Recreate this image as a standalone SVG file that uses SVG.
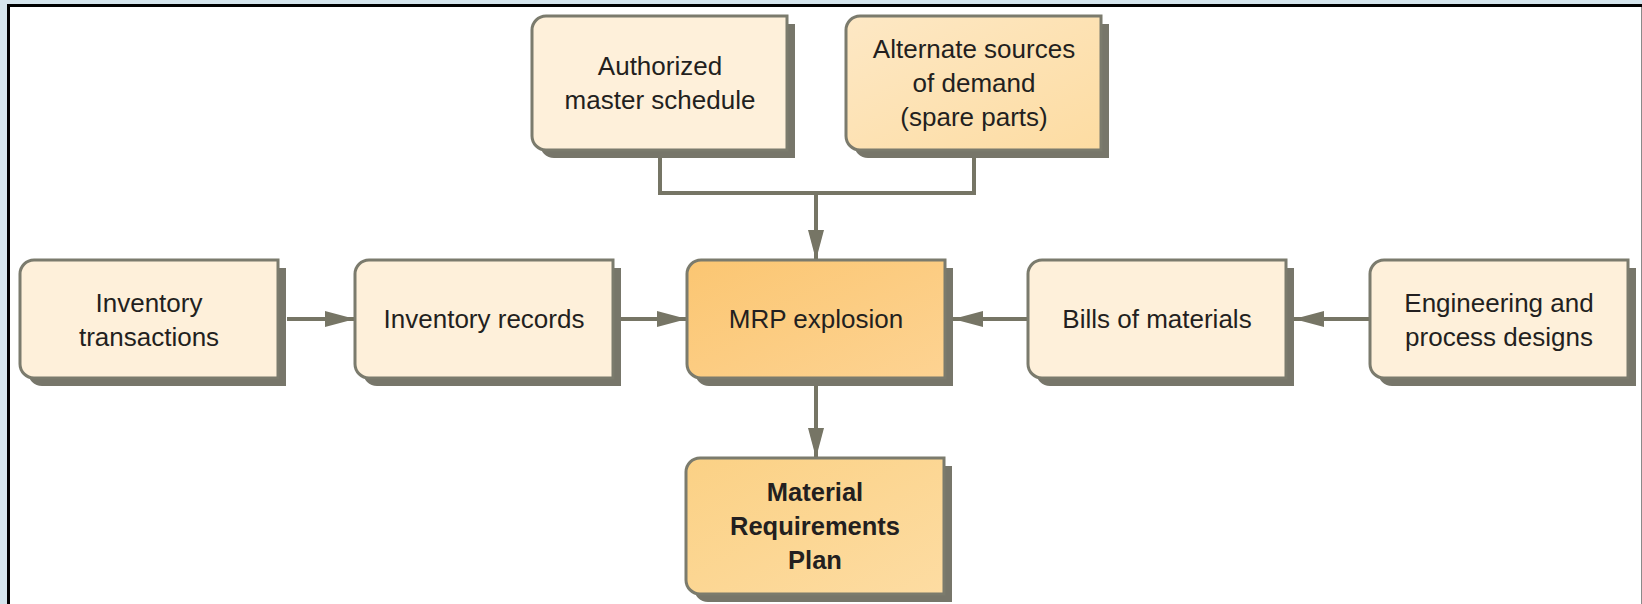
<svg xmlns="http://www.w3.org/2000/svg" width="1642" height="604" viewBox="0 0 1642 604">
<defs>
<style>
.sh{fill:#77766a}
.bx{stroke:#7b7b6d;stroke-width:3}
.lt{fill:#fef0da}
.t{font-family:"Liberation Sans",Arial,sans-serif;font-size:26px;fill:#231f20;text-anchor:middle}
.b{font-weight:bold;font-size:25.5px}
.ln{fill:none;stroke:#767565;stroke-width:4}
</style>
<linearGradient id="gAlt" x1="0" y1="0" x2="1" y2="1">
<stop offset="0" stop-color="#fde8c5"/>
<stop offset="1" stop-color="#fddca2"/>
</linearGradient>
<linearGradient id="gMrp" x1="0" y1="0" x2="1" y2="1">
<stop offset="0" stop-color="#fbc672"/>
<stop offset="1" stop-color="#fdd392"/>
</linearGradient>
<linearGradient id="gPlan" x1="0" y1="0" x2="1" y2="1">
<stop offset="0" stop-color="#fbd185"/>
<stop offset="1" stop-color="#fddca2"/>
</linearGradient>
<marker id="ah" markerUnits="userSpaceOnUse" markerWidth="30" markerHeight="16" refX="30" refY="8" orient="auto">
<path d="M0,0 L30,8 L0,16 Z" fill="#767565"/>
</marker>
</defs>
<rect x="0" y="0" width="1642" height="604" fill="#d4e4ec"/>
<rect x="8.5" y="5.5" width="1640" height="604" fill="#ffffff"/>
<line x1="8.5" y1="5.5" x2="1642" y2="5.5" stroke="#000" stroke-width="3"/>
<line x1="8.5" y1="4" x2="8.5" y2="604" stroke="#000" stroke-width="3"/>
<line x1="1641.5" y1="7" x2="1641.5" y2="604" stroke="#8a8a8a" stroke-width="1"/>

<g id="connectors">
<path class="ln" d="M660,158 V193 H974 V158"/>
<path class="ln" d="M816,193 V260" marker-end="url(#ah)"/>
<path class="ln" d="M287,319 H355" marker-end="url(#ah)"/>
<path class="ln" d="M621,319 H687" marker-end="url(#ah)"/>
<path class="ln" d="M1028,319 H953" marker-end="url(#ah)"/>
<path class="ln" d="M1370,319 H1294" marker-end="url(#ah)"/>
<path class="ln" d="M816,386 V458" marker-end="url(#ah)"/>
</g>

<g id="authorized">
<path class="sh" d="M554,24 H795 V158 H554 A14 14 0 0 1 540,144 V38 A14 14 0 0 1 554,24 Z"/>
<path class="bx lt" d="M546,16 H787 V150 H546 A14 14 0 0 1 532,136 V30 A14 14 0 0 1 546,16 Z"/>
<text class="t" x="660" y="75">Authorized</text>
<text class="t" x="660" y="109">master schedule</text>
</g>

<g id="alternate">
<path class="sh" d="M868,24 H1109 V158 H868 A14 14 0 0 1 854,144 V38 A14 14 0 0 1 868,24 Z"/>
<path class="bx" fill="url(#gAlt)" d="M860,16 H1101 V150 H860 A14 14 0 0 1 846,136 V30 A14 14 0 0 1 860,16 Z"/>
<text class="t" x="974" y="58">Alternate sources</text>
<text class="t" x="974" y="92">of demand</text>
<text class="t" x="974" y="126">(spare parts)</text>
</g>

<g id="inv-transactions">
<path class="sh" d="M42,268 H286 V386 H42 A14 14 0 0 1 28,372 V282 A14 14 0 0 1 42,268 Z"/>
<path class="bx lt" d="M34,260 H278 V378 H34 A14 14 0 0 1 20,364 V274 A14 14 0 0 1 34,260 Z"/>
<text class="t" x="149" y="312">Inventory</text>
<text class="t" x="149" y="346">transactions</text>
</g>

<g id="inv-records">
<path class="sh" d="M377,268 H621 V386 H377 A14 14 0 0 1 363,372 V282 A14 14 0 0 1 377,268 Z"/>
<path class="bx lt" d="M369,260 H613 V378 H369 A14 14 0 0 1 355,364 V274 A14 14 0 0 1 369,260 Z"/>
<text class="t" x="484" y="328">Inventory records</text>
</g>

<g id="mrp-explosion">
<path class="sh" d="M709,268 H953 V386 H709 A14 14 0 0 1 695,372 V282 A14 14 0 0 1 709,268 Z"/>
<path class="bx" fill="url(#gMrp)" d="M701,260 H945 V378 H701 A14 14 0 0 1 687,364 V274 A14 14 0 0 1 701,260 Z"/>
<text class="t" x="816" y="328">MRP explosion</text>
</g>

<g id="bills">
<path class="sh" d="M1050,268 H1294 V386 H1050 A14 14 0 0 1 1036,372 V282 A14 14 0 0 1 1050,268 Z"/>
<path class="bx lt" d="M1042,260 H1286 V378 H1042 A14 14 0 0 1 1028,364 V274 A14 14 0 0 1 1042,260 Z"/>
<text class="t" x="1157" y="328">Bills of materials</text>
</g>

<g id="engineering">
<path class="sh" d="M1392,268 H1636 V386 H1392 A14 14 0 0 1 1378,372 V282 A14 14 0 0 1 1392,268 Z"/>
<path class="bx lt" d="M1384,260 H1628 V378 H1384 A14 14 0 0 1 1370,364 V274 A14 14 0 0 1 1384,260 Z"/>
<text class="t" x="1499" y="312">Engineering and</text>
<text class="t" x="1499" y="346">process designs</text>
</g>

<g id="mrp-plan">
<path class="sh" d="M708,466 H952 V602 H708 A14 14 0 0 1 694,588 V480 A14 14 0 0 1 708,466 Z"/>
<path class="bx" fill="url(#gPlan)" d="M700,458 H944 V594 H700 A14 14 0 0 1 686,580 V472 A14 14 0 0 1 700,458 Z"/>
<text class="t b" x="815" y="501">Material</text>
<text class="t b" x="815" y="535">Requirements</text>
<text class="t b" x="815" y="569">Plan</text>
</g>
</svg>
